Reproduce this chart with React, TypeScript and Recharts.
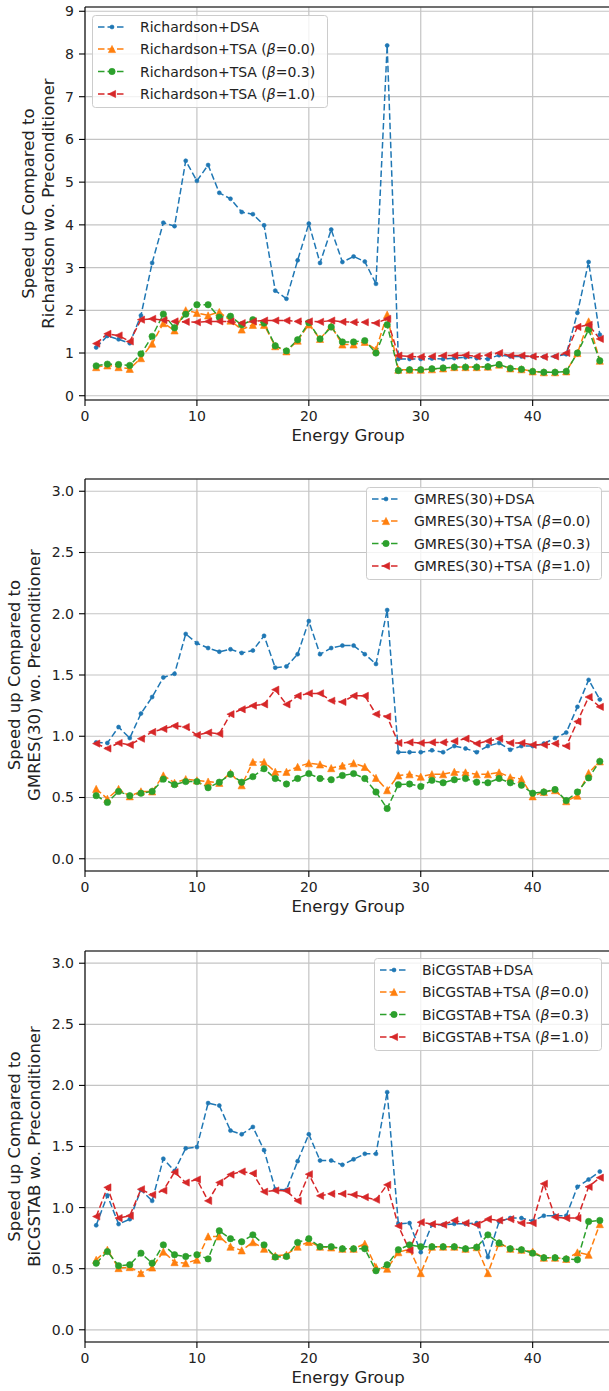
import React from 'react';
import { LineChart, Line, XAxis, YAxis, CartesianGrid, Legend, ReferenceLine } from 'recharts';

// ---------- data ----------
const groups = [1, 2, 3, 4, 5, 6, 7, 8, 9, 10, 11, 12, 13, 14, 15, 16, 17, 18, 19, 20, 21, 22, 23, 24, 25, 26, 27, 28, 29, 30, 31, 32, 33, 34, 35, 36, 37, 38, 39, 40, 41, 42, 43, 44, 45, 46];

const xTicks = [0, 10, 20, 30, 40];
const richardsonYTicks = [0, 1, 2, 3, 4, 5, 6, 7, 8, 9];
const krylovYTicks = [0, 0.5, 1.0, 1.5, 2.0, 2.5, 3.0];

const richardsonDSA = [1.13, 1.40, 1.32, 1.23, 1.88, 3.11, 4.05, 3.97, 5.50, 5.03, 5.40, 4.75, 4.61, 4.30, 4.25, 3.99, 2.46, 2.27, 3.17, 4.03, 3.11, 3.89, 3.13, 3.26, 3.14, 2.62, 8.20, 0.86, 0.86, 0.86, 0.87, 0.86, 0.88, 0.90, 0.88, 0.86, 0.95, 0.92, 0.92, 0.92, 0.91, 0.92, 0.97, 1.94, 3.13, 1.43];
const richardsonTSA00 = [0.67, 0.71, 0.67, 0.63, 0.88, 1.22, 1.70, 1.53, 2.00, 1.94, 1.88, 1.96, 1.76, 1.55, 1.66, 1.66, 1.16, 1.04, 1.29, 1.67, 1.33, 1.63, 1.20, 1.20, 1.26, 1.08, 1.90, 0.61, 0.61, 0.61, 0.62, 0.64, 0.67, 0.67, 0.67, 0.68, 0.73, 0.64, 0.62, 0.57, 0.55, 0.55, 0.57, 1.00, 1.74, 0.82];
const richardsonTSA03 = [0.70, 0.74, 0.73, 0.71, 0.98, 1.39, 1.91, 1.59, 1.91, 2.13, 2.13, 1.84, 1.86, 1.66, 1.78, 1.70, 1.17, 1.05, 1.31, 1.71, 1.33, 1.61, 1.26, 1.26, 1.29, 1.00, 1.66, 0.59, 0.61, 0.61, 0.63, 0.65, 0.67, 0.67, 0.67, 0.68, 0.73, 0.64, 0.62, 0.57, 0.55, 0.55, 0.57, 1.00, 1.55, 0.82];
const richardsonTSA10 = [1.22, 1.45, 1.41, 1.27, 1.78, 1.80, 1.77, 1.74, 1.73, 1.72, 1.74, 1.74, 1.74, 1.70, 1.74, 1.76, 1.76, 1.76, 1.74, 1.74, 1.73, 1.76, 1.73, 1.72, 1.72, 1.70, 1.80, 0.94, 0.92, 0.91, 0.92, 0.94, 0.94, 0.95, 0.92, 0.95, 1.00, 0.94, 0.94, 0.92, 0.91, 0.92, 1.00, 1.61, 1.66, 1.33];

const gmresDSA = [0.95, 0.945, 1.075, 0.985, 1.185, 1.32, 1.48, 1.51, 1.835, 1.76, 1.72, 1.69, 1.71, 1.68, 1.70, 1.82, 1.56, 1.57, 1.67, 1.94, 1.67, 1.72, 1.74, 1.74, 1.67, 1.59, 2.03, 0.87, 0.87, 0.87, 0.885, 0.87, 0.92, 0.90, 0.87, 0.92, 0.945, 0.89, 0.92, 0.92, 0.94, 0.985, 1.03, 1.24, 1.46, 1.30];
const gmresTSA00 = [0.57, 0.49, 0.57, 0.51, 0.55, 0.55, 0.68, 0.62, 0.65, 0.64, 0.63, 0.62, 0.70, 0.60, 0.79, 0.79, 0.71, 0.71, 0.75, 0.78, 0.77, 0.74, 0.76, 0.78, 0.75, 0.66, 0.56, 0.68, 0.69, 0.67, 0.69, 0.69, 0.71, 0.705, 0.69, 0.69, 0.705, 0.665, 0.65, 0.51, 0.545, 0.56, 0.47, 0.515, 0.70, 0.795];
const gmresTSA03 = [0.515, 0.46, 0.55, 0.515, 0.535, 0.55, 0.65, 0.605, 0.63, 0.63, 0.58, 0.625, 0.69, 0.625, 0.67, 0.735, 0.655, 0.61, 0.655, 0.695, 0.655, 0.645, 0.68, 0.695, 0.655, 0.545, 0.41, 0.605, 0.61, 0.59, 0.64, 0.62, 0.645, 0.655, 0.625, 0.62, 0.655, 0.62, 0.60, 0.535, 0.545, 0.565, 0.475, 0.545, 0.66, 0.795];
const gmresTSA10 = [0.94, 0.90, 0.945, 0.93, 0.98, 1.035, 1.06, 1.085, 1.075, 1.01, 1.03, 1.02, 1.18, 1.22, 1.25, 1.26, 1.38, 1.26, 1.33, 1.35, 1.35, 1.29, 1.28, 1.33, 1.33, 1.18, 1.16, 0.945, 0.95, 0.945, 0.95, 0.95, 0.96, 0.98, 0.94, 0.96, 0.98, 0.945, 0.945, 0.93, 0.93, 0.94, 0.92, 1.12, 1.32, 1.24];

const bicgDSA = [0.855, 1.10, 0.865, 0.905, 1.145, 1.055, 1.40, 1.30, 1.485, 1.495, 1.855, 1.835, 1.63, 1.60, 1.66, 1.47, 1.15, 1.145, 1.38, 1.60, 1.385, 1.385, 1.35, 1.395, 1.44, 1.44, 1.945, 0.867, 0.873, 0.635, 0.86, 0.86, 0.867, 0.867, 0.873, 0.595, 0.886, 0.914, 0.914, 0.89, 0.933, 0.933, 0.933, 1.17, 1.23, 1.295];
const bicgTSA00 = [0.573, 0.655, 0.505, 0.513, 0.464, 0.51, 0.64, 0.554, 0.545, 0.573, 0.764, 0.764, 0.68, 0.65, 0.717, 0.663, 0.605, 0.614, 0.68, 0.72, 0.68, 0.674, 0.663, 0.663, 0.704, 0.513, 0.50, 0.635, 0.66, 0.464, 0.68, 0.68, 0.68, 0.663, 0.676, 0.464, 0.71, 0.663, 0.655, 0.64, 0.59, 0.59, 0.58, 0.633, 0.614, 0.865];
const bicgTSA03 = [0.545, 0.64, 0.524, 0.532, 0.627, 0.545, 0.695, 0.614, 0.60, 0.614, 0.58, 0.81, 0.745, 0.72, 0.777, 0.695, 0.595, 0.60, 0.715, 0.745, 0.68, 0.68, 0.663, 0.663, 0.663, 0.483, 0.532, 0.655, 0.695, 0.68, 0.68, 0.68, 0.68, 0.663, 0.676, 0.777, 0.71, 0.663, 0.655, 0.627, 0.59, 0.59, 0.58, 0.573, 0.886, 0.895];
const bicgTSA10 = [0.927, 1.165, 0.914, 0.933, 1.15, 1.105, 1.14, 1.29, 1.205, 1.23, 1.055, 1.205, 1.27, 1.295, 1.28, 1.13, 1.14, 1.137, 1.055, 1.273, 1.096, 1.113, 1.113, 1.105, 1.085, 1.064, 1.186, 0.85, 0.65, 0.88, 0.865, 0.86, 0.895, 0.873, 0.86, 0.905, 0.895, 0.905, 0.873, 0.873, 1.195, 0.922, 0.914, 0.914, 1.17, 1.245];

const solverNames = ['Richardson', 'GMRES(30)', 'BiCGSTAB'];

// ---------- styling ----------
const FONT = '"DejaVu Sans", Verdana, sans-serif';
const DASH = '6.5 3';
const LW = 1.5;

type Shape = 'point' | 'tri' | 'circle' | 'left';

const seriesDefs: { key: string; color: string; shape: Shape; beta: string | null }[] = [
  { key: 'dsa', color: '#1f77b4', shape: 'point', beta: null },
  { key: 't0', color: '#ff7f0e', shape: 'tri', beta: '0.0' },
  { key: 't3', color: '#2ca02c', shape: 'circle', beta: '0.3' },
  { key: 't1', color: '#d62728', shape: 'left', beta: '1.0' },
];

function buildRows(dsa: number[], t0: number[], t3: number[], t1: number[]) {
  return groups.map((g, i) => ({ g, dsa: dsa[i], t0: t0[i], t3: t3[i], t1: t1[i] }));
}

function markerEl(shape: Shape, cx: number, cy: number, color: string, key?: any) {
  const s = 3.6;
  if (shape === 'point') return <circle key={key} cx={cx} cy={cy} r={2} fill={color} stroke={color} strokeWidth={0.6} />;
  if (shape === 'circle') return <circle key={key} cx={cx} cy={cy} r={3.2} fill={color} stroke={color} strokeWidth={0.6} />;
  if (shape === 'tri')
    return <polygon key={key} points={`${cx},${cy - s} ${cx - s},${cy + s} ${cx + s},${cy + s}`} fill={color} stroke={color} strokeWidth={0.6} />;
  return <polygon key={key} points={`${cx - s},${cy} ${cx + s},${cy - s} ${cx + s},${cy + s}`} fill={color} stroke={color} strokeWidth={0.6} />;
}

function makeDot(shape: Shape, color: string) {
  return (p: any) => {
    if (p == null || p.cx == null || p.cy == null) return <g key={p?.index ?? Math.random()} />;
    return markerEl(shape, p.cx, p.cy, color, `d-${p.index}`);
  };
}

const legendRowY = [12, 34, 56.5, 79];

function LegendBox({ name, width }: { name: string; width: number }) {
  const h = 93;
  const hx = 6;
  const tx = 48;
  return (
    <svg width={width} height={h} style={{ display: 'block', overflow: 'visible' }}>
      <rect x={0.5} y={0.5} width={width - 1} height={h - 1} rx={3} ry={3} fill="#ffffff" fillOpacity={0.8} stroke="#cccccc" strokeWidth={1} />
      {seriesDefs.map((s, i) => {
        const cy = legendRowY[i];
        return (
          <g key={s.key}>
            <line x1={hx} y1={cy} x2={hx + 28} y2={cy} stroke={s.color} strokeWidth={LW} strokeDasharray={DASH} />
            {markerEl(s.shape, hx + 14, cy, s.color)}
            <text x={tx} y={cy + 5} fontFamily={FONT} fontSize={14} fill="#222">
              {s.beta === null ? (
                `${name}+DSA`
              ) : (
                <>
                  {`${name}+TSA (`}
                  <tspan fontStyle="italic">β</tspan>
                  {`=${s.beta})`}
                </>
              )}
            </text>
          </g>
        );
      })}
    </svg>
  );
}

type PanelCfg = {
  top: number;
  height: number;
  data: any[];
  yMax: number;
  yTicks: number[];
  fmt: (v: number) => string;
  name: string;
  legend: { left: number; top: number; width: number };
  yLabelX: [number, number];
};

const MT = 7;
const XH = 45;
const YW = 85;
const CW = 620;

const panels: PanelCfg[] = [
  {
    top: 0,
    height: 445,
    data: buildRows(richardsonDSA, richardsonTSA00, richardsonTSA03, richardsonTSA10),
    yMax: 9.1,
    yTicks: richardsonYTicks,
    fmt: (v) => String(v),
    name: solverNames[0],
    legend: { left: 92, top: 15, width: 236 },
    yLabelX: [34, 54],
  },
  {
    top: 472,
    height: 444,
    data: buildRows(gmresDSA, gmresTSA00, gmresTSA03, gmresTSA10),
    yMax: 3.1,
    yTicks: krylovYTicks,
    fmt: (v) => v.toFixed(1),
    name: solverNames[1],
    legend: { left: 366, top: 15, width: 236 },
    yLabelX: [20, 40],
  },
  {
    top: 944,
    height: 443,
    data: buildRows(bicgDSA, bicgTSA00, bicgTSA03, bicgTSA10),
    yMax: 3.1,
    yTicks: krylovYTicks,
    fmt: (v) => v.toFixed(1),
    name: solverNames[2],
    legend: { left: 374, top: 14, width: 228 },
    yLabelX: [20, 40],
  },
];

function Panel({ cfg }: { cfg: PanelCfg }) {
  const plotH = cfg.height - MT - XH;
  const cy = MT + plotH / 2;
  const plotRight = CW - 9;
  const cx = (YW + plotRight) / 2;
  const tickStyle = { fontSize: 14, fill: '#222', fontFamily: FONT };
  return (
    <div style={{ position: 'absolute', left: 0, top: cfg.top, width: CW, height: cfg.height }}>
      <LineChart width={CW} height={cfg.height} data={cfg.data} margin={{ top: MT, right: 9, left: 0, bottom: 0 }}>
        <CartesianGrid stroke="#c4c4c4" strokeWidth={1.2} />
        <XAxis
          dataKey="g"
          type="number"
          domain={[0, 47]}
          ticks={xTicks}
          interval={0}
          allowDataOverflow
          height={XH}
          tick={tickStyle}
          tickSize={6}
          tickMargin={5}
          axisLine={{ stroke: '#000', strokeWidth: 1.1 }}
          tickLine={{ stroke: '#000', strokeWidth: 1.1 }}
          label={{
            content: () => (
              <text x={cx} y={MT + plotH + 41} textAnchor="middle" fontFamily={FONT} fontSize={16.5} fill="#222">
                Energy Group
              </text>
            ),
          }}
        />
        <YAxis
          type="number"
          domain={[-0.1, cfg.yMax]}
          ticks={cfg.yTicks}
          interval={0}
          allowDataOverflow
          width={YW}
          tick={tickStyle}
          tickFormatter={cfg.fmt}
          tickSize={6}
          tickMargin={5}
          axisLine={{ stroke: '#000', strokeWidth: 1.1 }}
          tickLine={{ stroke: '#000', strokeWidth: 1.1 }}
          label={{
            content: () => (
              <g>
                <text
                  x={cfg.yLabelX[0]}
                  y={cy}
                  transform={`rotate(-90 ${cfg.yLabelX[0]} ${cy})`}
                  textAnchor="middle"
                  fontFamily={FONT}
                  fontSize={16.5}
                  fill="#222"
                >
                  Speed up Compared to
                </text>
                <text
                  x={cfg.yLabelX[1]}
                  y={cy}
                  transform={`rotate(-90 ${cfg.yLabelX[1]} ${cy})`}
                  textAnchor="middle"
                  fontFamily={FONT}
                  fontSize={16.5}
                  fill="#222"
                >
                  {`${cfg.name} wo. Preconditioner`}
                </text>
              </g>
            ),
          }}
        />
        <ReferenceLine y={cfg.yMax} stroke="#000" strokeWidth={1.1} ifOverflow="visible" />
        <ReferenceLine x={47} stroke="#000" strokeWidth={1.1} ifOverflow="visible" />
        {seriesDefs.map((s) => (
          <Line
            key={s.key}
            type="linear"
            dataKey={s.key}
            stroke={s.color}
            strokeWidth={LW}
            strokeDasharray={DASH}
            dot={makeDot(s.shape, s.color)}
            activeDot={false}
            isAnimationActive={false}
          />
        ))}
        <Legend
          layout="vertical"
          align="center"
          verticalAlign="middle"
          wrapperStyle={{ left: cfg.legend.left, top: cfg.legend.top, width: cfg.legend.width, height: 93 }}
          content={() => <LegendBox name={cfg.name} width={cfg.legend.width} />}
        />
      </LineChart>
    </div>
  );
}

export default function App() {
  return (
    <div
      style={{
        position: 'absolute',
        left: 0,
        top: 0,
        width: 609,
        height: 1391,
        overflow: 'hidden',
        background: '#ffffff',
        fontFamily: FONT,
      }}
    >
      {panels.map((p, i) => (
        <Panel key={i} cfg={p} />
      ))}
    </div>
  );
}
